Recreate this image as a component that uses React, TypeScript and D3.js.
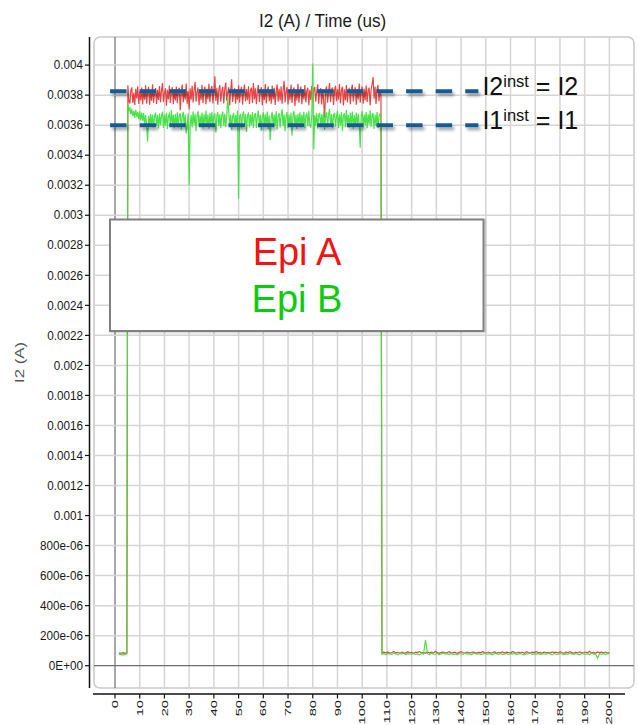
import React from "react";
import * as d3 from "d3";

// ---- data (currents in microamps, time in microseconds) ----
const TITLE = "I2 (A) / Time (us)";
const Y_LABEL = "I2 (A)";
const X_TICKS = [0, 10, 20, 30, 40, 50, 60, 70, 80, 90, 100, 110, 120, 130, 140, 150, 160, 170, 180, 190, 200];
const Y_TICKS = [0, 0.0002, 0.0004, 0.0006, 0.0008, 0.001, 0.0012, 0.0014, 0.0016, 0.0018, 0.002, 0.0022, 0.0024, 0.0026, 0.0028, 0.003, 0.0032, 0.0034, 0.0036, 0.0038, 0.004];
const Y_TICK_LABELS = ["0E+00", "200e-06", "400e-06", "600e-06", "800e-06", "0.001", "0.0012", "0.0014", "0.0016", "0.0018", "0.002", "0.0022", "0.0024", "0.0026", "0.0028", "0.003", "0.0032", "0.0034", "0.0036", "0.0038", "0.004"];

// sampling of each trace segment: [start time (us), sample period (us)]
const SEG_START = [1.6, 0.4];
const SEG_HIGH = [5.2, 0.4];
const SEG_END = [108.0, 0.8];

const epiA_start = [82, 86, 80, 84, 88, 81, 85, 83, 86];
const epiB_start = [78, 74, 80, 72, 76, 70, 79, 75, 80];

const epiA_high = [
  3865, 3760, 3745, 3830, 3852, 3748, 3815, 3735, 3842, 3778, 3858, 3742, 3826, 3765, 3850, 3738,
  3838, 3770, 3866, 3744, 3820, 3855, 3736, 3832, 3762, 3872, 3750, 3818, 3847, 3741, 3835, 3768,
  3860, 3752, 3828, 3880, 3755, 3812, 3845, 3730, 3836, 3772, 3864, 3748, 3822, 3853, 3739, 3840,
  3764, 3857, 3746, 3831, 3849, 3700, 3821, 3870, 3752, 3838, 3769, 3878, 3742, 3827, 3705, 3846,
  3770, 3862, 3751, 3834, 3888, 3757, 3819, 3851, 3733, 3839, 3766, 3869, 3747, 3833, 3856, 3740,
  3843, 3772, 3875, 3753, 3837, 3861, 3744, 3826, 3925, 3761, 3848, 3736, 3835, 3867, 3756, 3824,
  3856, 3745, 3840, 3884, 3763, 3818, 3852, 3731, 3833, 3905, 3754, 3825, 3846, 3743, 3838, 3769,
  3866, 3750, 3832, 3855, 3737, 3821, 3871, 3759, 3840, 3767, 3859, 3741, 3834, 3850, 3748, 3880,
  3772, 3846, 3739, 3829, 3868, 3754, 3823, 3853, 3732, 3841, 3768, 3874, 3745, 3833, 3857, 3760,
  3837, 3742, 3864, 3771, 3848, 3735, 3826, 3872, 3757, 3842, 3765, 3859, 3743, 3831, 3895, 3752,
  3822, 3854, 3738, 3839, 3767, 3870, 3748, 3833, 3851, 3728, 3836, 3764, 3876, 3750, 3827, 3857,
  3740, 3841, 3771, 3867, 3752, 3830, 3849, 3733, 3835, 3768, 3862, 3745, 3838, 3854, 3757, 3824,
  3872, 3743, 3829, 3846, 3738, 3840, 3765, 3650, 3834, 3858, 3749, 3825, 3880, 3755, 3836, 3850,
  3735, 3831, 3863, 3760, 3841, 3770, 3874, 3746, 3832, 3856, 3731, 3839, 3766, 3867, 3752, 3828,
  3848, 3740, 3836, 3870, 3758, 3824, 3853, 3736, 3840, 3771, 3878, 3749, 3833, 3857, 3743, 3842,
  3764, 3865, 3754, 3830, 3850, 3731, 3837, 3873, 3920, 3776, 3855, 3741, 3839, 3868, 3759, 3833,
  3800,
];

const epiB_high = [
  3745, 3690, 3720, 3672, 3708, 3660, 3695, 3648, 3702, 3655, 3688, 3640, 3692, 3632, 3684, 3628,
  3680, 3605, 3668, 3598, 3490, 3662, 3590, 3675, 3602, 3670, 3585, 3658, 3684, 3594, 3667, 3578,
  3678, 3600, 3660, 3690, 3582, 3671, 3596, 3683, 3575, 3662, 3676, 3588, 3700, 3604, 3669, 3580,
  3674, 3595, 3686, 3584, 3663, 3680, 3572, 3659, 3688, 3592, 3670, 3545, 3606, 3679, 3200, 3598,
  3668, 3583, 3690, 3601, 3675, 3560, 3664, 3692, 3588, 3666, 3597, 3684, 3578, 3672, 3605, 3698,
  3590, 3670, 3576, 3681, 3603, 3689, 3584, 3663, 3677, 3552, 3660, 3686, 3593, 3673, 3580, 3667,
  3690, 3596, 3676, 3586, 3662, 3790, 3684, 3599, 3671, 3570, 3661, 3682, 3589, 3668, 3602, 3695,
  3110, 3660, 3675, 3578, 3667, 3691, 3594, 3674, 3555, 3662, 3684, 3586, 3670, 3600, 3688, 3579,
  3665, 3680, 3582, 3662, 3697, 3591, 3669, 3565, 3657, 3685, 3588, 3673, 3598, 3690, 3575, 3664,
  3500, 3655, 3686, 3586, 3671, 3597, 3693, 3573, 3663, 3679, 3583, 3667, 3705, 3592, 3672, 3560,
  3659, 3687, 3580, 3670, 3596, 3682, 3530, 3661, 3694, 3589, 3668, 3574, 3676, 3601, 3685, 3585,
  3671, 3598, 3689, 3579, 3664, 3678, 3591, 3696, 3603, 3583, 3660, 4010, 3440, 3669, 3595, 3683,
  3576, 3666, 3681, 3587, 3673, 3600, 3690, 3570, 3662, 3685, 3584, 3670, 3708, 3593, 3674, 3579,
  3667, 3683, 3590, 3658, 3695, 3581, 3672, 3599, 3686, 3562, 3664, 3679, 3586, 3701, 3601, 3669,
  3583, 3682, 3605, 3691, 3577, 3668, 3596, 3684, 3589, 3675, 3608, 3450, 3666, 3693, 3585, 3671,
  3600, 3687, 3579, 3674, 3604, 3699, 3588, 3665, 3681, 3574, 3670, 3597, 3688, 3582, 3663, 3678,
  3640,
];

const epiA_end = [
  84, 90, 86, 92, 83, 88, 95, 85, 89, 82, 91, 87, 84, 93, 86, 89,
  81, 90, 87, 94, 85, 88, 83, 92, 86, 90, 84, 96, 87, 82, 89, 91,
  85, 88, 93, 84, 87, 90, 82, 89, 94, 86, 83, 91, 88, 85, 92, 87,
  84, 90, 86, 95, 83, 88, 91, 85, 87, 93, 82, 89, 86, 92, 84, 90,
  88, 83, 94, 87, 85, 91, 86, 89, 82, 93, 88, 84, 90, 87, 95, 85,
  89, 83, 91, 86, 88, 84, 92, 87, 90, 85, 93, 88, 82, 91, 86, 94,
  87, 83, 90, 85, 92, 88, 84, 91, 86, 96, 85, 89, 83, 92, 87, 90,
  86, 91, 84, 88,
];

const epiB_end = [
  76, 80, 73, 82, 78, 75, 84, 79, 72, 81, 77, 83, 74, 80, 78, 76,
  82, 75, 79, 73, 81, 77, 171, 80, 74, 83, 78, 76, 81, 72, 79, 84,
  77, 80, 74, 82, 76, 79, 73, 81, 78, 75, 84, 77, 80, 72, 79, 83,
  76, 81, 74, 78, 82, 75, 80, 77, 73, 84, 79, 76, 81, 74, 78, 82,
  75, 80, 77, 83, 74, 79, 81, 76, 72, 80, 78, 84, 75, 79, 77, 82,
  74, 80, 78, 76, 83, 79, 73, 81, 77, 75, 82, 78, 74, 80, 76, 84,
  79, 75, 81, 77, 73, 82, 78, 76, 80, 74, 83, 77, 79, 50, 81, 76,
  80, 74, 82, 78,
];

// annotation levels (A) and their time span (us)
const LEVELS = [0.003826, 0.0036];
const LEVEL_SPAN = [-2, 147];
const LEVEL_LABELS = [["I2", "inst", " = I2"], ["I1", "inst", " = I1"]];
const LEGEND = [
  { name: "Epi A", color: "#f01414" },
  { name: "Epi B", color: "#0ccc0c" },
];
const RED_LINE = "#e63b3b";
const GREEN_LINE = "#3fe03f";

function toPoints(seg: number[], vals: number[]): [number, number][] {
  return vals.map((v, i) => [seg[0] + i * seg[1], v * 1e-6]);
}

const FONT = "'Liberation Sans', Arial, sans-serif";

export default function App() {
  const W = 638;
  const H = 725;
  const x = d3.scaleLinear().domain([0, 200]).range([115, 609.4]);
  const y = d3.scaleLinear().domain([0, 0.004]).range([665.7, 65.1]);
  const frame = { x0: 94, y0: 37, x1: 634, y1: 688 };

  const line = d3
    .line<[number, number]>()
    .x((d) => x(d[0]))
    .y((d) => y(d[1]));

  const a = [
    ...toPoints(SEG_START, epiA_start),
    ...toPoints(SEG_HIGH, epiA_high),
    ...toPoints(SEG_END, epiA_end),
  ];
  const b = [
    ...toPoints(SEG_START, epiB_start),
    ...toPoints(SEG_HIGH, epiB_high),
    ...toPoints(SEG_END, epiB_end),
  ];

  const gridX = d3.range(-10, 211, 10);
  const gridY = d3.range(-1, 22).map((i) => i * 0.0002);

  return (
    <svg
      width={W}
      height={H}
      style={{ position: "absolute", left: 0, top: 0, background: "#fff" }}
      fontFamily={FONT}
    >
      <defs>
        <clipPath id="plotclip">
          <rect x={frame.x0} y={frame.y0} width={frame.x1 - frame.x0} height={frame.y1 - frame.y0} rx={6} />
        </clipPath>
        <filter id="shadow" filterUnits="userSpaceOnUse" x={0} y={0} width={W} height={H}>
          <feDropShadow dx={2} dy={3} stdDeviation={1.6} floodColor="#000" floodOpacity={0.35} />
        </filter>
        <filter id="boxshadow" filterUnits="userSpaceOnUse" x={0} y={0} width={W} height={H}>
          <feDropShadow dx={1} dy={1} stdDeviation={1} floodColor="#000" floodOpacity={0.2} />
        </filter>
      </defs>

      {/* title */}
      <text
        transform="translate(322.5,27) scale(0.9,1)"
        textAnchor="middle"
        fontSize={19}
        fill="#1a1a1a"
      >
        {TITLE}
      </text>

      {/* plot frame */}
      <rect
        x={frame.x0}
        y={frame.y0}
        width={frame.x1 - frame.x0}
        height={frame.y1 - frame.y0}
        rx={6}
        fill="#fff"
        stroke="#c9c9c9"
        strokeWidth={1.5}
      />

      <g clipPath="url(#plotclip)">
        {gridX.map((t) => (
          <line
            key={"gx" + t}
            x1={x(t)}
            x2={x(t)}
            y1={frame.y0}
            y2={frame.y1}
            stroke={t === 0 ? "#6e6e6e" : "#d5d5d5"}
            strokeWidth={t === 0 ? 1.2 : 1.5}
          />
        ))}
        {gridY.map((v, i) => (
          <line
            key={"gy" + i}
            x1={frame.x0}
            x2={frame.x1}
            y1={y(v)}
            y2={y(v)}
            stroke={Math.abs(v) < 1e-9 ? "#6e6e6e" : "#d5d5d5"}
            strokeWidth={Math.abs(v) < 1e-9 ? 1.2 : 1.5}
          />
        ))}
        <path d={line(a) || ""} fill="none" stroke={RED_LINE} strokeWidth={1.2} strokeOpacity={0.95} />
        <path d={line(b) || ""} fill="none" stroke={GREEN_LINE} strokeWidth={1.2} strokeOpacity={0.95} />
      </g>

      {/* y axis */}
      <line x1={89.5} x2={89.5} y1={37} y2={688} stroke="#111" strokeWidth={1.5} />
      {Y_TICKS.map((v, i) => (
        <g key={"yt" + i}>
          <line x1={85} x2={89.5} y1={y(v)} y2={y(v)} stroke="#111" strokeWidth={1.2} />
          <text
            transform={`translate(83,${y(v)}) scale(0.9,1)`}
            textAnchor="end"
            dominantBaseline="central"
            fontSize={13}
            fill="#1a1a1a"
          >
            {Y_TICK_LABELS[i]}
          </text>
        </g>
      ))}
      <text
        transform={`translate(19.5,${(frame.y0 + frame.y1) / 2}) rotate(-90) scale(1.4,1)`}
        textAnchor="middle"
        dominantBaseline="central"
        fontSize={12}
        fill="#555"
      >
        {Y_LABEL}
      </text>

      {/* x axis */}
      <line x1={93} x2={625} y1={694} y2={694} stroke="#111" strokeWidth={1.5} />
      {X_TICKS.map((t) => (
        <g key={"xt" + t}>
          <line x1={x(t)} x2={x(t)} y1={694} y2={698.5} stroke="#111" strokeWidth={1.2} />
          <text
            transform={`translate(${x(t)},700) rotate(-90) scale(1.55,1)`}
            textAnchor="end"
            dominantBaseline="central"
            fontSize={9.5}
            fill="#1a1a1a"
          >
            {t}
          </text>
        </g>
      ))}

      {/* dashed level annotations */}
      {LEVELS.map((v, i) => (
        <g key={"lv" + i}>
          <line
            x1={x(LEVEL_SPAN[0])}
            x2={x(LEVEL_SPAN[1])}
            y1={y(v)}
            y2={y(v)}
            stroke="#185c94"
            strokeWidth={4}
            strokeDasharray="16.5 13.1"
            filter="url(#shadow)"
          />
          <text x={x(LEVEL_SPAN[1]) + 4} y={y(v) + 4} fontSize={25} fill="#111">
            {LEVEL_LABELS[i][0]}
            <tspan fontSize={16.5} dy={-8.5}>
              {LEVEL_LABELS[i][1]}
            </tspan>
            <tspan dy={8.5}>{LEVEL_LABELS[i][2]}</tspan>
          </text>
        </g>
      ))}

      {/* legend box */}
      <rect
        x={110}
        y={219.5}
        width={373.5}
        height={111.5}
        fill="#fff"
        stroke="#808080"
        strokeWidth={2}
        filter="url(#boxshadow)"
      />
      {LEGEND.map((l, i) => (
        <text key={l.name} x={297} y={265 + i * 46.5} textAnchor="middle" fontSize={38} fill={l.color}>
          {l.name}
        </text>
      ))}
    </svg>
  );
}
